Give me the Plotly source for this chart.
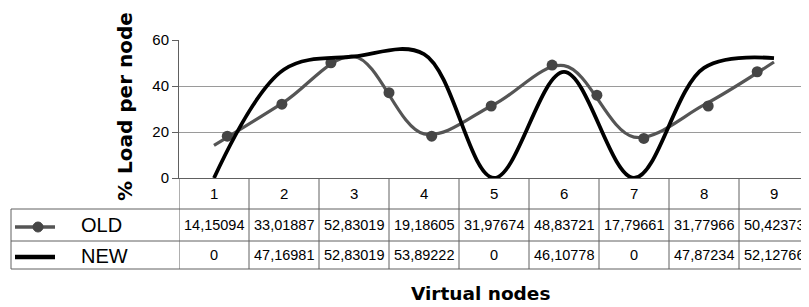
import plotly.graph_objects as go

# ---- data ----
categories = [1, 2, 3, 4, 5, 6, 7, 8, 9]
old_values = [14.15094, 33.01887, 52.83019, 19.18605, 31.97674, 48.83721, 17.79661, 31.77966, 50.42373]
new_values = [0, 47.16981, 52.83019, 53.89222, 0, 46.10778, 0, 47.87234, 52.12766]
old_labels = ["14,15094", "33,01887", "52,83019", "19,18605", "31,97674", "48,83721", "17,79661", "31,77966", "50,42373"]
new_labels = ["0", "47,16981", "52,83019", "53,89222", "0", "46,10778", "0", "47,87234", "52,12766"]
# marker positions of the OLD series as they appear in the picture (category units / %)
old_marker_x = [1.19, 1.97, 2.67, 3.5, 4.11, 4.96, 5.83, 6.47, 7.14, 8.06, 8.76]
old_marker_y = [18.2, 32.1, 50.1, 37.1, 18.2, 31.3, 49.1, 36.0, 17.2, 31.3, 46.2]
series_names = ["OLD", "NEW"]
y_ticks = [0, 20, 40, 60]

# ---- geometry helpers (reference pixel -> paper); page body has an 8px margin ----
OFF = 8
W, H = 809 - OFF, 307 - OFF
L, T = 179 - OFF, 40 - OFF
PW, PH = 630, 138
R = W - L - PW
B = H - T - PH


def px(x):
    return (x - OFF - L) / PW


def py(y):
    return (T + PH - (y - OFF)) / PH


OLD_C = "#555555"
NEW_C = "#000000"
LINE_C = "#606060"
FONT = "Liberation Sans, Arial, sans-serif"
BOLD = "DejaVu Sans, Verdana, sans-serif"

fig = go.Figure()
fig.add_trace(go.Scatter(x=categories, y=old_values, mode="lines", name=series_names[0],
                         line=dict(color=OLD_C, width=3.2, shape="spline", smoothing=1),
                         showlegend=False))
fig.add_trace(go.Scatter(x=old_marker_x, y=old_marker_y, mode="markers",
                         marker=dict(color="#454545", size=11), showlegend=False, cliponaxis=False))
fig.add_trace(go.Scatter(x=categories, y=new_values, mode="lines", name=series_names[1],
                         line=dict(color=NEW_C, width=3.8, shape="spline", smoothing=1),
                         showlegend=False))

shapes = []
# horizontal table lines
for yy in (209, 241, 269):
    shapes.append(dict(type="line", xref="paper", yref="paper", x0=px(11), x1=px(809),
                       y0=py(yy), y1=py(yy), line=dict(color=LINE_C, width=1)))
# left table edge
shapes.append(dict(type="line", xref="paper", yref="paper", x0=px(11), x1=px(11),
                   y0=py(209), y1=py(269), line=dict(color=LINE_C, width=1)))
# column separators (between categories) and left column edge
bounds = [c - 0.5 for c in categories]
for b in bounds:
    shapes.append(dict(type="line", xref="x", yref="paper", x0=b, x1=b,
                       y0=0, y1=py(269), line=dict(color=LINE_C, width=1)))
# legend glyphs
shapes.append(dict(type="line", xref="paper", yref="paper", x0=px(15), x1=px(55),
                   y0=py(227), y1=py(227), line=dict(color=OLD_C, width=3.5)))
shapes.append(dict(type="circle", xref="paper", yref="paper", x0=px(33), x1=px(43),
                   y0=py(222), y1=py(232), fillcolor="#454545", line=dict(color="#454545", width=1)))
shapes.append(dict(type="line", xref="paper", yref="paper", x0=px(15), x1=px(55),
                   y0=py(257), y1=py(257), line=dict(color=NEW_C, width=4.5)))

annotations = []
for c in categories:
    annotations.append(dict(x=c, y=py(193.5), xref="x", yref="paper", text=str(c), showarrow=False,
                            font=dict(family=FONT, size=15, color="black"), yanchor="middle"))
for c, t in zip(categories, old_labels):
    annotations.append(dict(x=c, y=py(225), xref="x", yref="paper", text=t, showarrow=False,
                            font=dict(family=FONT, size=14.5, color="black"), yanchor="middle"))
for c, t in zip(categories, new_labels):
    annotations.append(dict(x=c, y=py(255), xref="x", yref="paper", text=t, showarrow=False,
                            font=dict(family=FONT, size=14.5, color="black"), yanchor="middle"))
for name, yy in zip(series_names, (225, 256)):
    annotations.append(dict(x=px(79), y=py(yy), xref="paper", yref="paper", text=name, showarrow=False,
                            xanchor="left", yanchor="middle",
                            font=dict(family=FONT, size=20, color="black")))
annotations.append(dict(x=px(480), y=py(293), xref="paper", yref="paper", text="<b>Virtual nodes</b>",
                        showarrow=False, xanchor="center", yanchor="middle",
                        font=dict(family=BOLD, size=18.5, color="black")))
annotations.append(dict(x=px(125), y=py(107), xref="paper", yref="paper", text="<b>% Load per node</b>",
                        showarrow=False, xanchor="center", yanchor="middle", textangle=-90,
                        font=dict(family=BOLD, size=20, color="black")))

fig.update_layout(
    width=W, height=H,
    margin=dict(l=L, r=R, t=T, b=B, pad=0),
    paper_bgcolor="white", plot_bgcolor="white",
    shapes=shapes, annotations=annotations,
    xaxis=dict(range=[0.5, 9.5], showticklabels=False, showgrid=False, zeroline=False,
               showline=True, linecolor=LINE_C, linewidth=1, ticks=""),
    yaxis=dict(range=[0, 60], tickvals=y_ticks, showgrid=True, gridcolor="#9a9a9a", gridwidth=1,
               zeroline=False, showline=True, linecolor=LINE_C, linewidth=1,
               ticks="outside", ticklen=6, tickcolor=LINE_C,
               tickfont=dict(family=FONT, size=15, color="black")),
)

fig.write_html("out.html")
